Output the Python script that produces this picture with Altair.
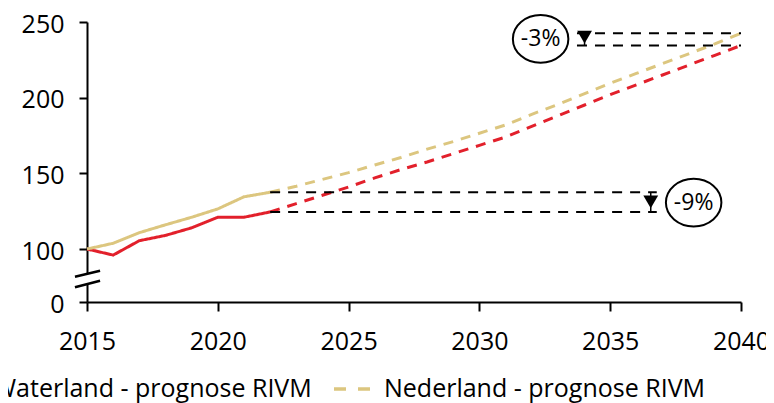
import altair as alt
import pandas as pd

# ---- data ----
years = list(range(2015, 2041))
waterland = [100, 96, 105.5, 109, 114, 121, 121, 124.5, 130, 135.5, 141, 147, 152.5,
             157.5, 163, 168.5, 174, 181, 188, 195, 202, 208.5, 215, 221.5, 228, 234.5]
nederland = [100, 103.8, 110.8, 116, 121, 126.5, 134.5, 137.5, 141.5, 146, 150.5, 155.5,
             160.5, 166, 171, 176.5, 182, 189, 195.5, 202.5, 209.5, 216, 222.5, 229, 235.5, 242.5]
series_names = ["Waterland - prognose RIVM", "Nederland - prognose RIVM"]
series_colors = ["#E2202B", "#DCC67F"]
last_actual_year = 2022

y_ticks = [65, 100, 150, 200, 250]   # 65 stands for the broken-axis "0"
x_ticks = [2015, 2020, 2025, 2030, 2035, 2040]

pct_labels = ["-9%", "-3%"]
pct_label_x = [2038.19, 2032.34]
pct_label_y = [130.7, 238.8]
gap_x_start = [2022, 2033.73]
gap_x_end = [2036.78, 2040]
gap_top = [137.5, 242.5]
gap_bottom = [124.5, 234.5]
arrow_x = [2036.55, 2034.02]
arrow_y = [131.2, 240.0]

FONT = "Open Sans"

rows = []
for name, vals in zip(series_names, [waterland, nederland]):
    for yr, v in zip(years, vals):
        if yr <= last_actual_year:
            rows.append({"year": yr, "value": v, "series": name, "seg": "hist"})
        if yr >= last_actual_year:
            rows.append({"year": yr, "value": v, "series": name, "seg": "proj"})
df = pd.DataFrame(rows)

xs = alt.Scale(domain=[2015, 2040], nice=False, zero=False)
ys = alt.Scale(domain=[65, 250], nice=False, zero=False)

lines = alt.Chart(df).mark_line(strokeWidth=3).encode(
    x=alt.X("year:Q", scale=xs,
            axis=alt.Axis(values=x_ticks, format="d", title=None, grid=False,
                          tickSize=9, tickWidth=2, domainWidth=2, domainColor="black",
                          tickColor="black", labelFontSize=25, labelFont=FONT,
                          labelColor="black", labelPadding=18, labelFlush=False)),
    y=alt.Y("value:Q", scale=ys,
            axis=alt.Axis(values=y_ticks, title=None, grid=False,
                          labelExpr="datum.value == 65 ? '0' : datum.label",
                          tickSize=8, tickWidth=2, domainWidth=2, domainColor="black",
                          tickColor="black", labelFontSize=25, labelFont=FONT,
                          labelColor="black", labelPadding=15, labelOffset=2)),
    color=alt.Color("series:N",
                    scale=alt.Scale(domain=series_names, range=series_colors),
                    legend=alt.Legend(title=None, orient="none", legendX=-146, legendY=347,
                                      direction="horizontal", symbolType="stroke",
                                      symbolSize=1296, symbolStrokeWidth=3.5,
                                      symbolDash=[12, 12], labelFontSize=25, labelFont=FONT,
                                      labelColor="black", columnPadding=15, labelOffset=12,
                                      labelLimit=0)),
    strokeDash=alt.StrokeDash("seg:N", scale=alt.Scale(domain=["hist", "proj"],
                                                        range=[[1, 0], [10, 8]]),
                              legend=None),
    detail="seg:N",
)

ann = pd.DataFrame({
    "x0": gap_x_start * 2,
    "x1": gap_x_end * 2,
    "y": gap_top + gap_bottom,
})
gap_lines = alt.Chart(ann).mark_rule(color="black", strokeWidth=2, strokeDash=[10, 8]).encode(
    x=alt.X("x0:Q", scale=xs), x2="x1:Q", y=alt.Y("y:Q", scale=ys))

arr = pd.DataFrame({"x": arrow_x, "y": arrow_y, "top": gap_top, "bot": gap_bottom})
stems = alt.Chart(arr).mark_rule(color="black", strokeWidth=1.5).encode(
    x=alt.X("x:Q", scale=xs), y=alt.Y("top:Q", scale=ys), y2="bot:Q")
heads = alt.Chart(arr).mark_point(shape="triangle-down", filled=True, color="black",
                                  size=220, opacity=1).encode(
    x=alt.X("x:Q", scale=xs), y=alt.Y("y:Q", scale=ys))

lab = pd.DataFrame({"x": pct_label_x, "y": pct_label_y, "t": pct_labels})
ellipse_path = "M-1,0A1,0.86,0,1,1,1,0A1,0.86,0,1,1,-1,0Z"
ellipses = alt.Chart(lab).mark_point(shape=ellipse_path, filled=False, stroke="black",
                                     strokeWidth=2, size=3080, opacity=1).encode(
    x=alt.X("x:Q", scale=xs), y=alt.Y("y:Q", scale=ys))
texts = alt.Chart(lab).mark_text(fontSize=23, font=FONT, color="black").encode(
    x=alt.X("x:Q", scale=xs), y=alt.Y("y:Q", scale=ys), text="t:N")

# axis break
brk_gap = alt.Chart(pd.DataFrame({"x": [2015], "y": [83.8], "y2": [76.5]})).mark_rule(
    color="white", strokeWidth=5).encode(
    x=alt.X("x:Q", scale=xs), y=alt.Y("y:Q", scale=ys), y2="y2:Q")
brk = pd.DataFrame({"x": [2014.54, 2014.54], "x2": [2015.5, 2015.5],
                    "y": [81.7, 74.7], "y2": [85.7, 79.05]})
brk_lines = alt.Chart(brk).mark_rule(color="black", strokeWidth=2.5).encode(
    x=alt.X("x:Q", scale=xs), x2="x2:Q", y=alt.Y("y:Q", scale=ys), y2="y2:Q")

chart = alt.layer(lines, gap_lines, stems, heads, ellipses, texts, brk_gap, brk_lines).properties(
    width=654, height=280,
    autosize=alt.AutoSizeParams(type="none"),
    padding={"left": 79, "top": 14, "right": 25, "bottom": 110},
).configure_view(stroke=None)

chart.save("out.html", embed_options={"renderer": "svg", "actions": False})
